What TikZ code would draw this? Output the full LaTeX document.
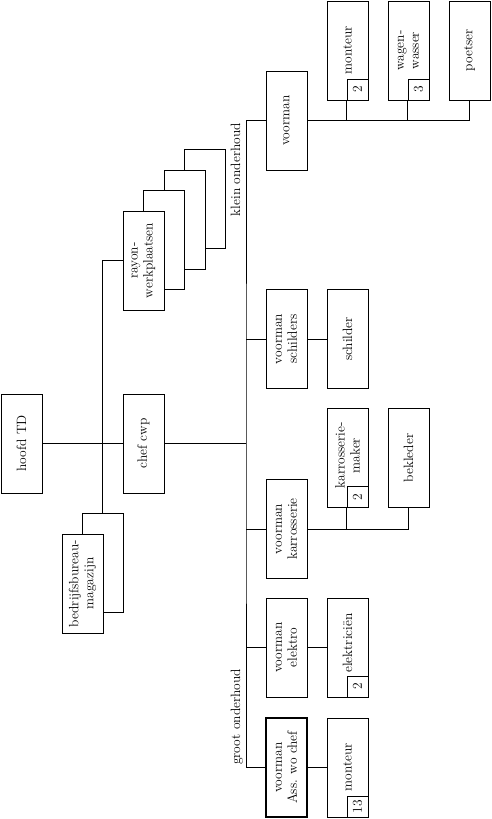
\documentclass[tikz,border=0pt]{standalone}
\usepackage{tikz}
\usetikzlibrary{positioning}

\begin{document}
\begin{tikzpicture}[
  x=1pt, y=-1pt,
  font=\fontsize{13.5}{15}\selectfont,
  unit/.style={draw,line width=1pt,fill=white,rotate=90,align=center,
               minimum width=99pt,minimum height=41pt,inner sep=1pt},
  head/.style={unit,line width=2.8pt},
  num/.style={draw,line width=1pt,fill=white,rotate=90,minimum size=21pt,
              inner sep=0pt,anchor=south west},
  lbl/.style={rotate=90,inner xsep=2.5pt,inner ysep=3pt,text depth=2.6pt},
  lnk/.style={line width=1pt},
]
\useasboundingbox (0,0) rectangle (491,819);

\node[unit] (hoofd) at (21.5,443.5) {hoofd TD};
\node[unit] (chef)  at (143.5,443.5) {chef cwp};

\node[unit] (rayon3) at (205,199) {};
\node[unit] (rayon2) at (184.5,219.5) {};
\node[unit] (rayon1) at (164,240) {};
\node[unit] (rayon)  at (143.5,260.5) {rayon-\\werkplaatsen};

\node[unit] (bedrijf1) at (102.5,563) {};
\node[unit] (bedrijf)  at (82.5,583.5) {bedrijfsbureau-\\magazijn};

% klein onderhoud
\node[unit] (vmklein) at (286.5,120.5) {voorman};
\node[unit] (monteur) at (347.5,50.5) {monteur};
\node[unit] (wagen)   at (408.5,50.5) {wagen-\\wasser};
\node[unit] (poetser) at (469.5,50.5) {poetser};
\node[num] (monteurn) at (monteur.south west) {2};
\node[num] (wagenn)   at (wagen.south west) {3};

% groot onderhoud
\node[unit] (vmschild) at (286.5,339) {voorman\\schilders};
\node[unit] (schilder) at (347.5,339) {schilder};
\node[unit] (vmkar)    at (286.5,529) {voorman\\karrosserie};
\node[unit] (kmaker)   at (347.5,458) {\hspace*{5pt}karrosserie-\\\hspace*{5pt}maker};
\node[num]  (kmakern)  at (kmaker.south west) {2};
\node[unit] (bekleder) at (408.5,458) {bekleder};
\node[unit] (vmelek)   at (286.5,647.5) {voorman\\elektro};
\node[unit] (elek)     at (347.5,647.5) {\hspace*{9pt}elektriciën};
\node[num]  (elekn)    at (elek.south west) {2};
\node[head] (vmass)    at (286.5,767.5) {voorman\\Ass. wo chef};
\node[unit] (monteurg) at (347.5,767.5) {monteur};
\node[num]  (monteurgn) at (monteurg.south west) {13};

\coordinate (bus) at (246,443.5);
\node[lbl,anchor=south east] (klein) at (246,120.5) {klein onderhoud};
\node[lbl,anchor=south west] (groot) at (246,767.5) {groot onderhoud};

\draw[lnk] (hoofd.south) -- (chef.north);
\draw[lnk] (rayon.north) -| (bedrijf1.east);
\draw[lnk] (chef.south) -- (bus);
\draw[lnk] (vmklein.north) -| (bus) |- (vmass.north);
\draw[lnk] (vmschild.north) -- (vmschild.north -| bus);
\draw[lnk] (vmkar.north) -- (vmkar.north -| bus);
\draw[lnk] (vmelek.north) -- (vmelek.north -| bus);
\draw[lnk] (vmklein.south) -| (poetser.west);
\draw[lnk] (monteurn.north west) -- (monteurn.north west |- vmklein.south);
\draw[lnk] (wagenn.north west) -- (wagenn.north west |- vmklein.south);
\draw[lnk] (vmschild.south) -- (schilder.north);
\draw[lnk] (vmkar.south) -| (bekleder.west);
\draw[lnk] (kmakern.north west) -- (kmakern.north west |- vmkar.south);
\draw[lnk] (vmelek.south) -- (elek.north);
\draw[lnk] (vmass.south) -- (monteurg.north);
\end{tikzpicture}
\end{document}
